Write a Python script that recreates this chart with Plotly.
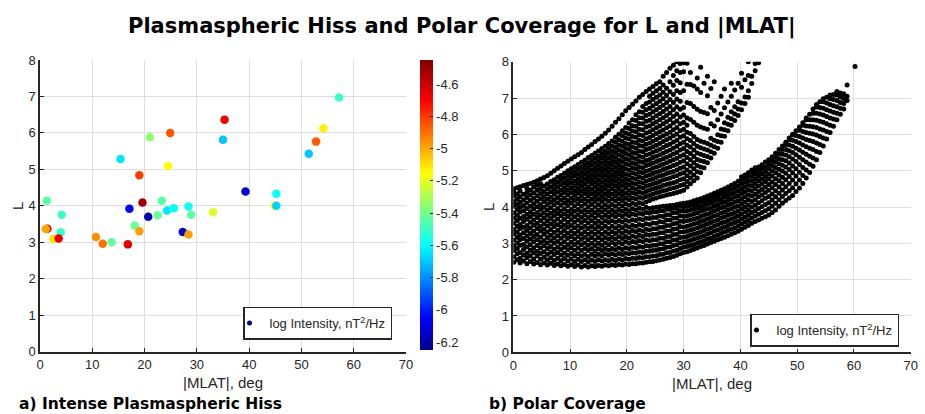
import plotly.graph_objects as go

# ---------------- Panel a: intense plasmaspheric hiss events ----------------
HISS_MLAT = [1.3, 15.4, 19.0, 21.0, 24.9, 24.5, 19.6, 23.3, 17.1, 35.3, 35.0,
             57.2, 54.2, 52.8, 51.4, 39.3, 45.2, 44.9, 45.2, 33.1, 4.15, 1.4,
             1.1, 3.96, 2.55, 3.57, 10.7, 12.0, 13.7, 16.8, 20.7, 18.1, 19.0,
             22.5, 24.3, 25.6, 28.4, 28.9, 27.3, 28.4]
HISS_L = [4.14, 5.28, 4.84, 5.88, 6.00, 5.09, 4.09, 4.14, 3.92, 6.36, 5.81,
          6.97, 6.13, 5.76, 5.43, 4.39, 4.33, 4.00, 4.00, 3.82, 3.75, 3.37,
          3.36, 3.27, 3.09, 3.10, 3.14, 2.96, 3.00, 2.94, 3.70, 3.46, 3.30,
          3.74, 3.87, 3.93, 3.98, 3.75, 3.28, 3.21]
HISS_LOGI = [-5.44, -5.65, -4.81, -5.35, -4.85, -5.15, -4.52, -5.45, -6.07, -4.67, -5.70,
             -5.50, -5.13, -4.86, -5.70, -6.12, -5.58, -5.15, -5.68, -5.22, -5.50, -4.67,
             -4.99, -5.50, -5.10, -4.67, -4.95, -4.90, -5.43, -4.64, -6.20, -5.42, -4.98,
             -5.42, -5.64, -5.58, -5.58, -5.44, -6.17, -4.98]

CBAR_TICKS = [-6.2, -6.0, -5.8, -5.6, -5.4, -5.2, -5.0, -4.8, -4.6]
CBAR_LABELS = ["-6.2", "-6", "-5.8", "-5.6", "-5.4", "-5.2", "-5", "-4.8", "-4.6"]
AXIS_X_TICKS = [0, 10, 20, 30, 40, 50, 60, 70]
AXIS_Y_TICKS = [0, 1, 2, 3, 4, 5, 6, 7, 8]

# ---------------- Panel b: polar coverage (|MLAT| column, L values) ----------------
COV_COLUMNS = [
    (0.1, [2.48, 2.63, 2.8, 2.93, 3.09, 3.26, 3.38, 3.55, 3.7, 3.84, 4.02, 4.15, 4.3, 4.41, 4.5]),
    (0.7, [2.55, 2.71, 2.86, 3.01, 3.17, 3.31, 3.47, 3.63, 3.77, 3.93, 4.07, 4.22, 4.36, 4.53]),
    (1.2, [2.46, 2.59, 2.75, 2.95, 3.1, 3.23, 3.41, 3.52, 3.69, 3.86, 3.99, 4.13, 4.28, 4.44, 4.56]),
    (1.8, [2.51, 2.68, 2.83, 2.97, 3.13, 3.29, 3.44, 3.6, 3.74, 3.9, 4.04, 4.19, 4.35, 4.59]),
    (2.4, [2.44, 2.6, 2.73, 2.9, 3.06, 3.2, 3.35, 3.49, 3.66, 3.8, 3.96, 4.11, 4.26, 4.4, 4.51, 4.62]),
    (3.0, [2.5, 2.66, 2.81, 2.96, 3.12, 3.27, 3.42, 3.58, 3.73, 3.87, 4.02, 4.18, 4.33, 4.47, 4.65]),
    (3.6, [2.43, 2.57, 2.74, 2.88, 3.04, 3.19, 3.33, 3.5, 3.64, 3.8, 3.95, 4.09, 4.24, 4.39, 4.55, 4.68]),
    (4.2, [2.47, 2.65, 2.78, 2.94, 3.1, 3.24, 3.41, 3.55, 3.71, 3.85, 4.01, 4.16, 4.31, 4.46, 4.6, 4.72]),
    (4.8, [2.41, 2.56, 2.72, 2.87, 3.02, 3.17, 3.34, 3.47, 3.63, 3.78, 3.93, 4.07, 4.23, 4.37, 4.51, 4.64, 4.77]),
    (5.4, [2.46, 2.62, 2.77, 2.93, 3.08, 3.25, 3.39, 3.54, 3.7, 3.84, 3.99, 4.15, 4.29, 4.43, 4.58, 4.81]),
    (6.0, [2.4, 2.54, 2.7, 2.86, 3.01, 3.16, 3.31, 3.48, 3.62, 3.77, 3.92, 4.07, 4.21, 4.36, 4.5, 4.63, 4.86]),
    (6.6, [2.45, 2.6, 2.76, 2.91, 3.07, 3.22, 3.38, 3.53, 3.68, 3.83, 3.98, 4.13, 4.27, 4.42, 4.56, 4.7, 4.93]),
    (7.2, [2.39, 2.53, 2.69, 2.84, 3.0, 3.15, 3.3, 3.46, 3.6, 3.76, 3.9, 4.06, 4.2, 4.35, 4.48, 4.62, 4.75, 5.0]),
    (7.8, [2.43, 2.59, 2.75, 2.9, 3.05, 3.21, 3.36, 3.51, 3.67, 3.82, 3.96, 4.12, 4.26, 4.41, 4.55, 4.68, 4.82, 5.07]),
    (8.4, [2.38, 2.52, 2.68, 2.83, 2.98, 3.14, 3.29, 3.45, 3.59, 3.75, 3.89, 4.05, 4.19, 4.34, 4.47, 4.61, 4.74, 4.87, 5.13]),
    (9.0, [2.42, 2.58, 2.73, 2.89, 3.04, 3.2, 3.35, 3.5, 3.66, 3.81, 3.95, 4.11, 4.25, 4.4, 4.53, 4.67, 4.8, 4.93, 5.2]),
    (9.6, [2.37, 2.51, 2.67, 2.82, 2.97, 3.13, 3.28, 3.44, 3.58, 3.74, 3.88, 4.04, 4.18, 4.33, 4.46, 4.6, 4.73, 4.87, 5.0, 5.26]),
    (10.2, [2.41, 2.57, 2.72, 2.88, 3.03, 3.19, 3.34, 3.49, 3.65, 3.8, 3.94, 4.1, 4.24, 4.39, 4.52, 4.66, 4.79, 4.92, 5.05, 5.32]),
    (10.8, [2.36, 2.5, 2.66, 2.81, 2.97, 3.12, 3.27, 3.43, 3.58, 3.73, 3.88, 4.03, 4.18, 4.32, 4.45, 4.58, 4.71, 4.85, 4.98, 5.11, 5.38]),
    (11.4, [2.4, 2.56, 2.71, 2.87, 3.02, 3.18, 3.33, 3.48, 3.64, 3.79, 3.93, 4.09, 4.23, 4.38, 4.51, 4.65, 4.78, 4.91, 5.04, 5.17, 5.44]),
    (12.0, [2.35, 2.5, 2.65, 2.8, 2.96, 3.11, 3.26, 3.42, 3.57, 3.72, 3.87, 4.02, 4.17, 4.31, 4.44, 4.57, 4.7, 4.84, 4.97, 5.1, 5.23, 5.5]),
    (12.6, [2.39, 2.55, 2.7, 2.86, 3.01, 3.17, 3.32, 3.47, 3.63, 3.78, 3.92, 4.08, 4.22, 4.37, 4.5, 4.64, 4.77, 4.9, 5.03, 5.16, 5.29, 5.58]),
    (13.2, [2.35, 2.49, 2.64, 2.8, 2.95, 3.1, 3.25, 3.41, 3.56, 3.71, 3.86, 4.01, 4.16, 4.3, 4.43, 4.56, 4.7, 4.83, 4.96, 5.09, 5.22, 5.36, 5.65]),
    (13.8, [2.38, 2.54, 2.7, 2.85, 3.0, 3.16, 3.31, 3.46, 3.62, 3.77, 3.91, 4.07, 4.21, 4.36, 4.49, 4.63, 4.76, 4.89, 5.02, 5.15, 5.28, 5.42, 5.72]),
    (14.4, [2.36, 2.5, 2.65, 2.79, 2.94, 3.09, 3.25, 3.4, 3.55, 3.7, 3.85, 4.0, 4.15, 4.29, 4.42, 4.56, 4.69, 4.82, 4.95, 5.08, 5.21, 5.34, 5.48, 5.8]),
    (15.0, [2.39, 2.55, 2.7, 2.85, 3.0, 3.16, 3.31, 3.46, 3.61, 3.77, 3.91, 4.06, 4.21, 4.35, 4.48, 4.62, 4.75, 4.88, 5.01, 5.14, 5.27, 5.4, 5.54, 5.87]),
    (15.6, [2.37, 2.51, 2.66, 2.8, 2.95, 3.1, 3.25, 3.41, 3.56, 3.71, 3.86, 4.0, 4.15, 4.29, 4.43, 4.56, 4.69, 4.82, 4.95, 5.08, 5.21, 5.34, 5.47, 5.61, 5.95]),
    (16.2, [2.4, 2.55, 2.71, 2.86, 3.01, 3.16, 3.31, 3.47, 3.62, 3.77, 3.92, 4.06, 4.21, 4.35, 4.49, 4.62, 4.75, 4.88, 5.01, 5.14, 5.27, 5.4, 5.53, 5.67, 6.03]),
    (16.8, [2.38, 2.52, 2.67, 2.81, 2.96, 3.11, 3.26, 3.41, 3.57, 3.72, 3.86, 4.01, 4.16, 4.3, 4.43, 4.57, 4.7, 4.83, 4.96, 5.09, 5.22, 5.35, 5.48, 5.61, 5.75, 6.12]),
    (17.4, [2.41, 2.56, 2.71, 2.86, 3.02, 3.17, 3.32, 3.47, 3.62, 3.78, 3.92, 4.07, 4.22, 4.36, 4.5, 4.63, 4.76, 4.89, 5.02, 5.15, 5.28, 5.41, 5.54, 5.68, 5.82, 6.22]),
    (18.0, [2.39, 2.53, 2.68, 2.82, 2.97, 3.12, 3.27, 3.42, 3.58, 3.73, 3.87, 4.02, 4.17, 4.31, 4.44, 4.58, 4.71, 4.84, 4.97, 5.1, 5.23, 5.36, 5.5, 5.64, 5.78, 5.92, 6.33]),
    (18.6, [2.42, 2.57, 2.72, 2.87, 3.03, 3.18, 3.33, 3.48, 3.63, 3.79, 3.93, 4.08, 4.23, 4.37, 4.51, 4.64, 4.77, 4.9, 5.03, 5.16, 5.29, 5.43, 5.57, 5.71, 5.85, 6.0, 6.43]),
    (19.2, [2.4, 2.54, 2.69, 2.83, 2.98, 3.13, 3.28, 3.43, 3.59, 3.74, 3.88, 4.03, 4.18, 4.32, 4.45, 4.59, 4.72, 4.85, 4.98, 5.11, 5.25, 5.39, 5.53, 5.67, 5.81, 5.96, 6.1, 6.54]),
    (19.8, [2.43, 2.58, 2.73, 2.88, 3.04, 3.19, 3.34, 3.49, 3.64, 3.8, 3.94, 4.09, 4.24, 4.38, 4.52, 4.65, 4.78, 4.91, 5.05, 5.19, 5.33, 5.47, 5.61, 5.75, 5.9, 6.04, 6.19, 6.65]),
    (20.4, [2.42, 2.56, 2.71, 2.85, 3.0, 3.15, 3.3, 3.45, 3.61, 3.76, 3.9, 4.05, 4.2, 4.34, 4.47, 4.61, 4.74, 4.88, 5.02, 5.16, 5.3, 5.44, 5.58, 5.72, 5.87, 6.01, 6.16, 6.31, 6.74]),
    (21.0, [2.44, 2.59, 2.74, 2.89, 3.05, 3.2, 3.35, 3.5, 3.65, 3.81, 3.95, 4.1, 4.25, 4.39, 4.53, 4.66, 4.8, 4.94, 5.08, 5.22, 5.36, 5.5, 5.65, 5.79, 5.94, 6.09, 6.24, 6.4, 6.83]),
    (21.6, [2.44, 2.58, 2.73, 2.87, 3.02, 3.17, 3.32, 3.47, 3.63, 3.78, 3.92, 4.07, 4.22, 4.36, 4.49, 4.63, 4.77, 4.91, 5.05, 5.19, 5.33, 5.48, 5.62, 5.77, 5.92, 6.07, 6.22, 6.38, 6.54, 6.92]),
    (22.2, [2.46, 2.61, 2.76, 2.91, 3.07, 3.22, 3.37, 3.52, 3.67, 3.83, 3.97, 4.12, 4.27, 4.41, 4.55, 4.69, 4.83, 4.97, 5.11, 5.25, 5.4, 5.54, 5.69, 5.84, 5.99, 6.14, 6.3, 6.46, 6.62, 7.02]),
    (22.8, [2.46, 2.6, 2.75, 2.89, 3.04, 3.19, 3.34, 3.49, 3.65, 3.8, 3.94, 4.09, 4.24, 4.38, 4.52, 4.66, 4.8, 4.94, 5.08, 5.23, 5.37, 5.52, 5.67, 5.82, 5.97, 6.13, 6.29, 6.45, 6.61, 6.77, 7.1]),
    (23.4, [2.48, 2.63, 2.78, 2.93, 3.09, 3.24, 3.39, 3.54, 3.69, 3.85, 3.99, 4.14, 4.29, 4.43, 4.57, 4.71, 4.85, 4.99, 5.14, 5.28, 5.43, 5.58, 5.73, 5.88, 6.04, 6.2, 6.36, 6.52, 6.68, 6.85, 7.18]),
    (24.0, [2.49, 2.63, 2.78, 2.92, 3.07, 3.22, 3.37, 3.52, 3.68, 3.83, 3.96, 4.18, 4.32, 4.46, 4.6, 4.74, 4.88, 5.02, 5.17, 5.31, 5.46, 5.61, 5.76, 5.91, 6.07, 6.23, 6.39, 6.55, 6.72, 6.89, 7.05, 7.25]),
    (24.6, [2.5, 2.65, 2.8, 2.95, 3.1, 3.25, 3.4, 3.56, 3.71, 3.86, 3.98, 4.22, 4.36, 4.5, 4.64, 4.78, 4.92, 5.07, 5.21, 5.36, 5.51, 5.66, 5.81, 5.97, 6.13, 6.29, 6.45, 6.62, 6.79, 6.96, 7.13, 7.32]),
    (25.2, [2.52, 2.66, 2.81, 2.95, 3.1, 3.25, 3.4, 3.55, 3.71, 3.86, 3.99, 4.25, 4.39, 4.53, 4.67, 4.81, 4.96, 5.1, 5.25, 5.4, 5.55, 5.7, 5.86, 6.02, 6.18, 6.34, 6.51, 6.68, 6.85, 7.02, 7.2, 7.39]),
    (25.8, [2.54, 2.69, 2.84, 2.99, 3.14, 3.29, 3.44, 3.6, 3.75, 3.9, 4.01, 4.28, 4.42, 4.56, 4.7, 4.85, 4.99, 5.14, 5.29, 5.44, 5.59, 5.75, 5.91, 6.07, 6.23, 6.4, 6.57, 6.74, 6.91, 7.08, 7.26, 7.45]),
    (26.4, [2.56, 2.7, 2.85, 2.99, 3.14, 3.29, 3.44, 3.59, 3.74, 3.89, 4.02, 4.3, 4.45, 4.59, 4.74, 4.88, 5.03, 5.18, 5.33, 5.48, 5.64, 5.8, 5.96, 6.12, 6.29, 6.46, 6.63, 6.8, 6.98, 7.16, 7.36, 7.6]),
    (27.0, [2.59, 2.74, 2.89, 3.04, 3.19, 3.34, 3.49, 3.64, 3.79, 3.94, 4.03, 4.33, 4.47, 4.62, 4.77, 4.92, 5.07, 5.22, 5.37, 5.53, 5.69, 5.85, 6.01, 6.18, 6.35, 6.52, 6.7, 6.88, 7.07, 7.27, 7.7]),
    (27.6, [2.61, 2.75, 2.9, 3.04, 3.19, 3.34, 3.49, 3.64, 3.79, 3.93, 4.04, 4.35, 4.5, 4.65, 4.8, 4.95, 5.1, 5.26, 5.41, 5.57, 5.73, 5.9, 6.06, 6.23, 6.41, 6.59, 6.77, 6.96, 7.17, 7.45, 7.82]),
    (28.2, [2.64, 2.79, 2.94, 3.09, 3.24, 3.39, 3.54, 3.69, 3.84, 3.97, 4.05, 4.37, 4.52, 4.67, 4.83, 4.98, 5.14, 5.3, 5.46, 5.62, 5.79, 5.96, 6.13, 6.31, 6.49, 6.68, 6.88, 7.1, 7.35, 7.62, 7.9]),
    (28.8, [2.67, 2.81, 2.96, 3.1, 3.25, 3.4, 3.55, 3.7, 3.85, 3.98, 4.07, 4.4, 4.55, 4.7, 4.86, 5.02, 5.18, 5.34, 5.5, 5.67, 5.84, 6.01, 6.19, 6.37, 6.56, 6.76, 6.97, 7.2, 7.48, 7.75, 8.0]),
    (29.4, [2.71, 2.86, 3.01, 3.16, 3.31, 3.46, 3.61, 3.76, 3.9, 4.03, 4.09, 4.43, 4.59, 4.75, 4.91, 5.07, 5.23, 5.4, 5.57, 5.74, 5.92, 6.1, 6.29, 6.48, 6.69, 6.91, 7.15, 7.42, 7.7, 7.95]),
    (30.0, [2.75, 2.89, 3.03, 3.17, 3.31, 3.45, 3.6, 3.74, 3.88, 4.0, 4.1, 4.46, 4.62, 4.78, 4.94, 5.1, 5.27, 5.44, 5.61, 5.78, 5.96, 6.14, 6.33, 6.53, 6.74, 7.2, 7.72, 7.97]),
    (30.6, [2.77, 2.91, 3.05, 3.19, 3.33, 3.47, 3.62, 3.76, 3.9, 4.02, 4.12, 4.55, 4.7, 4.86, 5.02, 5.19, 5.36, 5.53, 5.7, 5.88, 6.06, 6.25, 6.45, 6.88, 7.38, 7.96]),
    (31.2, [2.8, 2.94, 3.08, 3.22, 3.36, 3.5, 3.64, 3.78, 3.92, 4.04, 4.14, 4.64, 4.8, 4.96, 5.13, 5.3, 5.47, 5.65, 5.83, 6.02, 6.41, 6.85, 7.37, 7.7]),
    (31.8, [2.84, 2.97, 3.11, 3.25, 3.39, 3.53, 3.67, 3.81, 3.94, 4.06, 4.17, 4.72, 4.88, 5.05, 5.22, 5.39, 5.57, 5.75, 5.94, 6.33, 6.77, 7.33]),
    (32.4, [2.87, 3.0, 3.14, 3.28, 3.42, 3.56, 3.7, 3.84, 3.97, 4.09, 4.2, 4.8, 4.97, 5.14, 5.31, 5.49, 5.67, 5.86, 6.25, 6.69, 7.25, 7.55]),
    (33.0, [2.91, 3.04, 3.18, 3.32, 3.46, 3.6, 3.74, 3.88, 4.01, 4.13, 4.23, 4.94, 5.1, 5.27, 5.45, 5.63, 5.81, 6.2, 6.63, 7.15, 7.85]),
    (33.6, [2.94, 3.07, 3.21, 3.35, 3.49, 3.63, 3.77, 3.91, 4.04, 4.16, 4.26, 5.08, 5.25, 5.42, 5.6, 5.78, 6.17, 6.6, 7.41]),
    (34.2, [2.98, 3.11, 3.25, 3.39, 3.53, 3.67, 3.81, 3.95, 4.08, 4.2, 4.3, 5.22, 5.39, 5.57, 5.75, 6.14, 6.57, 7.06, 7.6]),
    (34.8, [3.02, 3.15, 3.29, 3.43, 3.57, 3.71, 3.85, 3.98, 4.11, 4.23, 4.34, 5.35, 5.52, 5.7, 5.89, 6.29, 6.74, 7.26]),
    (35.4, [3.06, 3.19, 3.33, 3.47, 3.61, 3.75, 3.89, 4.02, 4.15, 4.27, 4.38, 5.48, 5.66, 5.84, 6.23, 6.66, 7.45]),
    (36.0, [3.1, 3.23, 3.37, 3.51, 3.65, 3.79, 3.93, 4.06, 4.19, 4.31, 4.42, 5.62, 5.8, 5.99, 6.4, 6.86]),
    (36.6, [3.13, 3.27, 3.41, 3.55, 3.69, 3.83, 3.97, 4.1, 4.23, 4.35, 4.46, 5.78, 5.96, 6.15, 6.56, 7.05]),
    (37.2, [3.17, 3.31, 3.45, 3.59, 3.73, 3.87, 4.01, 4.14, 4.27, 4.39, 4.5, 5.95, 6.13, 6.32, 6.73, 7.25]),
    (37.8, [3.21, 3.35, 3.49, 3.63, 3.77, 3.91, 4.05, 4.18, 4.31, 4.43, 4.55, 6.1, 6.28, 6.47, 6.89]),
    (38.4, [3.25, 3.39, 3.53, 3.67, 3.81, 3.95, 4.09, 4.23, 4.36, 4.48, 4.6, 6.25, 6.43, 6.62, 7.05, 7.41]),
    (39.0, [3.29, 3.43, 3.57, 3.71, 3.85, 3.99, 4.13, 4.27, 4.4, 4.53, 4.65, 6.38, 6.56, 6.76, 7.22]),
    (39.6, [3.33, 3.47, 3.61, 3.75, 3.89, 4.03, 4.17, 4.31, 4.45, 4.58, 4.71, 6.52, 6.7, 6.9, 7.41]),
    (40.2, [3.39, 3.53, 3.67, 3.81, 3.95, 4.09, 4.23, 4.37, 4.5, 4.63, 4.76, 4.83, 6.68, 6.86, 7.3, 7.68]),
    (40.8, [3.44, 3.58, 3.72, 3.86, 4.0, 4.14, 4.28, 4.42, 4.55, 4.68, 4.8, 4.88, 6.85, 7.03, 7.5]),
    (41.4, [3.49, 3.63, 3.77, 3.91, 4.05, 4.19, 4.33, 4.47, 4.6, 4.73, 4.85, 4.94, 7.02, 7.2, 7.62, 8.0]),
    (42.0, [3.55, 3.7, 3.85, 4.0, 4.15, 4.3, 4.44, 4.58, 4.71, 4.84, 4.96, 5.02, 7.4, 7.6]),
    (42.6, [3.6, 3.75, 3.9, 4.05, 4.2, 4.35, 4.5, 4.64, 4.77, 4.9, 5.02, 5.08, 7.75, 7.95]),
    (43.2, [3.64, 3.8, 3.96, 4.12, 4.28, 4.43, 4.58, 4.72, 4.85, 4.98, 5.1, 7.97]),
    (43.8, [3.69, 3.85, 4.01, 4.17, 4.33, 4.48, 4.63, 4.77, 4.91, 5.04, 5.16]),
    (44.4, [3.73, 3.9, 4.07, 4.24, 4.4, 4.55, 4.7, 4.84, 4.98, 5.11, 5.24]),
    (45.0, [3.78, 3.95, 4.12, 4.29, 4.46, 4.62, 4.77, 4.91, 5.05, 5.18, 5.3]),
    (45.6, [3.85, 4.02, 4.19, 4.36, 4.53, 4.69, 4.85, 5.0, 5.14, 5.27, 5.38]),
    (46.2, [3.92, 4.1, 4.28, 4.45, 4.62, 4.78, 4.94, 5.09, 5.23, 5.36, 5.48]),
    (46.8, [4.02, 4.2, 4.38, 4.55, 4.72, 4.88, 5.04, 5.19, 5.33, 5.46, 5.58]),
    (47.4, [4.1, 4.29, 4.47, 4.65, 4.82, 4.99, 5.15, 5.3, 5.45, 5.58, 5.68]),
    (48.0, [4.18, 4.37, 4.56, 4.75, 4.93, 5.1, 5.27, 5.43, 5.58, 5.72, 5.78]),
    (48.6, [4.25, 4.45, 4.65, 4.84, 5.03, 5.21, 5.38, 5.55, 5.71, 5.85, 5.9]),
    (49.2, [4.32, 4.53, 4.74, 4.94, 5.13, 5.32, 5.5, 5.67, 5.84, 5.98, 6.0]),
    (49.8, [4.43, 4.64, 4.85, 5.05, 5.25, 5.44, 5.62, 5.8, 5.97, 6.1]),
    (50.4, [4.52, 4.74, 4.96, 5.17, 5.37, 5.57, 5.76, 5.94, 6.11, 6.2]),
    (51.0, [4.65, 4.87, 5.09, 5.3, 5.51, 5.71, 5.9, 6.08, 6.25, 6.32]),
    (51.6, [4.8, 5.02, 5.24, 5.45, 5.66, 5.86, 6.05, 6.23, 6.4, 6.45]),
    (52.2, [4.95, 5.18, 5.4, 5.62, 5.83, 6.03, 6.22, 6.4, 6.55]),
    (52.8, [5.12, 5.35, 5.58, 5.8, 6.01, 6.21, 6.4, 6.58, 6.7]),
    (53.4, [5.3, 5.53, 5.76, 5.98, 6.19, 6.39, 6.58, 6.75, 6.82]),
    (54.0, [5.5, 5.72, 5.94, 6.15, 6.36, 6.56, 6.74, 6.9]),
    (54.6, [5.68, 5.9, 6.12, 6.33, 6.53, 6.72, 6.9, 6.98]),
    (55.2, [5.87, 6.08, 6.29, 6.49, 6.68, 6.86, 7.02]),
    (55.8, [6.05, 6.25, 6.45, 6.64, 6.82, 6.98, 7.08]),
    (56.4, [6.22, 6.42, 6.61, 6.79, 6.96, 7.1]),
    (57.0, [6.4, 6.58, 6.76, 6.93, 7.08, 7.18]),
    (57.6, [6.55, 6.72, 6.88, 7.03, 7.14]),
    (58.2, [6.7, 6.85, 6.99, 7.12]),
    (58.8, [6.93, 7.05, 7.36]),
    (60.2, [7.87]),
]

COV_MLAT = [m for m, ls in COV_COLUMNS for _ in ls]
COV_L = [v for _, ls in COV_COLUMNS for v in ls]

W, H = 925, 414
TXT = "#262626"
GRID = "#dedede"
JET = [[0.0, "#00008F"], [0.11, "#0000FF"], [0.36, "#00FFFF"],
       [0.61, "#FFFF00"], [0.86, "#FF0000"], [1.0, "#800000"]]
LEG_TEXT = "log Intensity, nT<sup>2</sup>/Hz"

def px(x):
    return x / W

def py(y):
    return 1 - y / H

fig = go.Figure()

fig.add_trace(go.Scatter(
    x=HISS_MLAT, y=HISS_L, mode="markers", xaxis="x", yaxis="y",
    showlegend=False, hoverinfo="skip",
    marker=dict(size=8.5, color=HISS_LOGI, colorscale=JET, cmin=-6.25, cmax=-4.45,
                line=dict(width=0),
                colorbar=dict(x=px(420), xanchor="left", y=py(205), yanchor="middle",
                              len=290 / H, lenmode="fraction", thickness=13,
                              outlinewidth=0, xpad=0, ypad=0,
                              tickvals=CBAR_TICKS, ticktext=CBAR_LABELS,
                              ticks="inside", ticklen=3, tickcolor=TXT,
                              tickfont=dict(family="Liberation Sans", size=13, color=TXT))),
))
# legend entry for panel a
fig.add_trace(go.Scatter(
    x=[None], y=[None], mode="markers", xaxis="x", yaxis="y",
    name=LEG_TEXT, legend="legend", showlegend=True,
    marker=dict(size=5, color="#00008F"),
))
fig.add_trace(go.Scatter(
    x=COV_MLAT, y=COV_L, mode="markers", xaxis="x2", yaxis="y2",
    name=LEG_TEXT, legend="legend2", showlegend=True, hoverinfo="skip",
    marker=dict(size=5, color="black", line=dict(width=0)),
))

axis_common = dict(
    showgrid=True, gridcolor=GRID, gridwidth=1, zeroline=False,
    showline=True, linecolor=TXT, linewidth=1.5,
    ticks="inside", ticklen=4, tickcolor=TXT, tickwidth=1,
    tickfont=dict(family="Liberation Sans", size=13, color=TXT),
    automargin=False, fixedrange=True,
)

legend_common = dict(
    xanchor="right", yanchor="middle", bgcolor="white", bordercolor=TXT,
    borderwidth=1.5, itemwidth=30, indentation=-15, itemsizing="trace",
    font=dict(family="Liberation Sans", size=13, color=TXT),
)

fig.update_layout(
    width=W, height=H, margin=dict(l=0, r=0, t=0, b=0),
    paper_bgcolor="white", plot_bgcolor="white",
    font=dict(family="Liberation Sans", color=TXT),
    xaxis=dict(domain=[px(40), px(406)], range=[0, 70], tickvals=AXIS_X_TICKS, anchor="y", **axis_common),
    yaxis=dict(domain=[py(351.5), py(60)], range=[0, 8], tickvals=AXIS_Y_TICKS, anchor="x", **axis_common),
    xaxis2=dict(domain=[px(513.3), px(910.7)], range=[0, 70], tickvals=AXIS_X_TICKS, anchor="y2", **axis_common),
    yaxis2=dict(domain=[py(352.3), py(61.7)], range=[0, 8], tickvals=AXIS_Y_TICKS, anchor="x2", **axis_common),
    legend=dict(x=px(392), y=py(323), **legend_common),
    legend2=dict(x=px(899), y=py(330), **legend_common),
    annotations=[
        dict(text="<b>Plasmaspheric Hiss and Polar Coverage for L and |MLAT|</b>",
             x=px(462), y=py(27), xref="paper", yref="paper", showarrow=False,
             xanchor="center", yanchor="middle",
             font=dict(family="DejaVu Sans", size=21, color="black")),
        dict(text="|MLAT|, deg", x=px(223), y=py(382), xref="paper", yref="paper",
             showarrow=False, xanchor="center", yanchor="middle",
             font=dict(family="Liberation Sans", size=15, color=TXT)),
        dict(text="|MLAT|, deg", x=px(712), y=py(383), xref="paper", yref="paper",
             showarrow=False, xanchor="center", yanchor="middle",
             font=dict(family="Liberation Sans", size=15, color=TXT)),
        dict(text="L", x=px(17), y=py(206), xref="paper", yref="paper", textangle=-90,
             showarrow=False, xanchor="center", yanchor="middle",
             font=dict(family="Liberation Sans", size=15, color=TXT)),
        dict(text="L", x=px(488), y=py(207), xref="paper", yref="paper", textangle=-90,
             showarrow=False, xanchor="center", yanchor="middle",
             font=dict(family="Liberation Sans", size=15, color=TXT)),
        dict(text="<b>a) Intense Plasmaspheric Hiss</b>", x=px(17), y=py(404),
             xref="paper", yref="paper", showarrow=False, xanchor="left", yanchor="middle",
             font=dict(family="DejaVu Sans", size=15.5, color="black")),
        dict(text="<b>b) Polar Coverage</b>", x=px(487), y=py(404),
             xref="paper", yref="paper", showarrow=False, xanchor="left", yanchor="middle",
             font=dict(family="DejaVu Sans", size=15.5, color="black")),
    ],
)

fig.write_html("out.html", config={"displayModeBar": False},
               post_script="document.body.style.margin='0';document.body.style.overflow='hidden';")
